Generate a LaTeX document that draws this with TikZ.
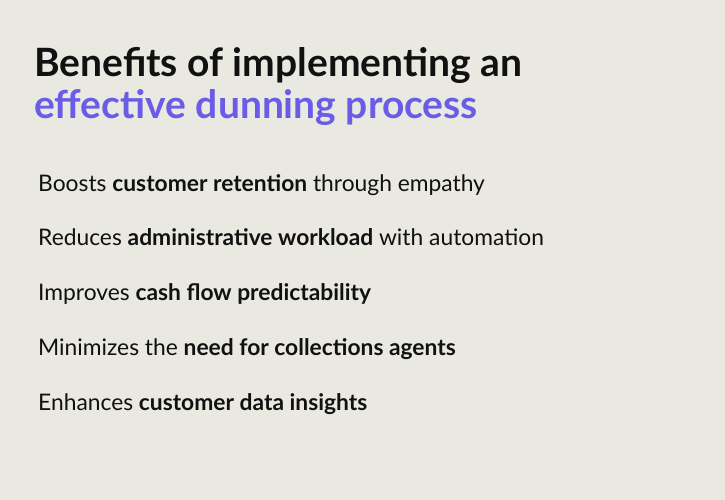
\documentclass[tikz,border=0pt]{standalone}
\usepackage{fontspec}
\setmainfont{Lato}
\usetikzlibrary{positioning}
\definecolor{bgpaper}{HTML}{E9E8E1}
\definecolor{titleink}{HTML}{111111}
\definecolor{accent}{HTML}{6B5CE7}
\tikzset{
  title/.style={anchor=base west, inner sep=0pt, font=\fontsize{39}{44}\selectfont\bfseries},
  point/.style={anchor=base west, inner sep=0pt, text=titleink, font=\fontsize{22.8}{26}\selectfont},
}
\begin{document}
\begin{tikzpicture}[x=1pt, y=-1pt]
		\fill[bgpaper] (0, 0) rectangle (725, 500);
		\useasboundingbox (0, 0) rectangle (725, 500);
		\node[title, text=titleink] (head) at (34, 77) {Benefits of implementing an};
		\node[title, text=accent] (headb) at (34, 118) {effective dunning process};
		\node[point] (p1) at (38, 191) {Boosts \textbf{customer retention} through empathy};
		\node[point] (p2) at (38, 245) {Reduces \textbf{administrative workload} with automation};
		\node[point] (p3) at (38, 300) {Improves \textbf{cash flow predictability}};
		\node[point] (p4) at (38, 355) {Minimizes the \textbf{need for collections agents}};
		\node[point] (p5) at (38, 410) {Enhances \textbf{customer data insights}};
\end{tikzpicture}
\end{document}
